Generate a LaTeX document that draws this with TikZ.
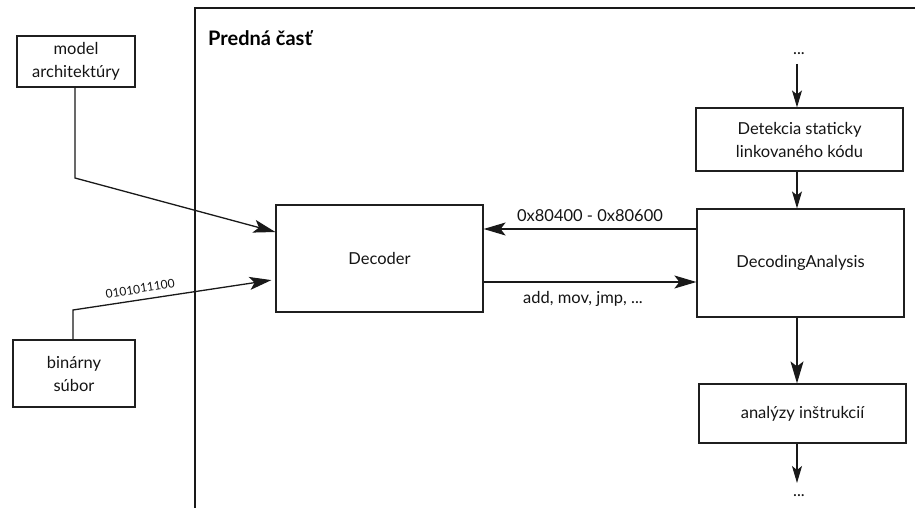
\documentclass[tikz,border=0pt]{standalone}
\usepackage{fontspec}
\setmainfont{Lato}
\usetikzlibrary{arrows.meta}
\begin{document}
\begin{tikzpicture}[x=1pt,y=-1pt,
  box/.style={draw=black!88, line width=1.2pt, inner sep=0pt, align=center,
    font=\fontsize{16.5}{23}\selectfont, text=black!92},
  lbl/.style={font=\fontsize{16.5}{20}\selectfont, text=black!92, inner sep=0pt},
  arr/.style={draw=black!90, line width=1.3pt, -{Stealth[length=22pt,width=13pt,inset=5pt]}},
  sarr/.style={draw=black!90, line width=1.1pt, -{Stealth[length=17pt,width=10pt,inset=4pt]}}]
\useasboundingbox (0,0) rectangle (915,508);

% frame of the front end
\draw[black!90, line width=1.2pt] (195,508) -- (195,8) -- (915,8);
\node[anchor=base west, inner sep=0pt, font=\fontsize{20}{24}\selectfont\bfseries]
  (title) at (208,46) {Predná časť};

% inputs
\node[box, minimum width=118pt, minimum height=51pt] (ma) at (76,61.5) {model\\architektúry};
\node[box, minimum width=122pt, minimum height=67pt] (bs) at (74,373.5) {binárny\\súbor};

% blocks
\node[box, minimum width=207pt, minimum height=107pt] (dec) at (379.5,258.5) {Decoder};
\node[box, minimum width=207pt, minimum height=63pt] (det) at (799.5,139.5) {Detekcia staticky\\linkovaného kódu};
\node[box, minimum width=207pt, minimum height=108pt] (da) at (800.5,263) {DecodingAnalysis};
\node[box, minimum width=207pt, minimum height=59pt] (an) at (802.5,413.5) {analýzy inštrukcií};

% ellipses above and below the chain
\node[lbl, anchor=base] (dtop) at (799,55) {...};
\node[lbl, anchor=base] (dbot) at (799,496) {...};
\coordinate (t0) at (797,64);
\coordinate (b0) at (797,483);

% vertical chain
\draw[sarr] (t0) -- (t0 |- det.north);
\draw[sarr] (det.south -| t0) -- (da.north -| t0);
\draw[arr] (da.south -| t0) -- (an.north -| t0);
\draw[sarr] (an.south -| b0) -- (b0);

% exchange between decoder and analysis
\draw[arr] ([yshift=34pt]da.west) -- ([yshift=34pt]da.west -| dec.east)
  node[lbl, midway, above=7pt] (addr) {0x80400 - 0x80600};
\draw[arr] ([yshift=-23.5pt]dec.east) -- ([yshift=-23.5pt]dec.east -| da.west)
  node[lbl, midway, below=9pt, xshift=-7pt] (ins) {add, mov, jmp, ...};

% inputs into the decoder
\coordinate (k1) at (75,178);
\draw[arr] (ma.south -| k1) -- (k1) -- ([yshift=26.5pt]dec.west);
\coordinate (k2) at (73,310);
\draw[arr, shorten >=4pt] (bs.north -| k2) -- (k2)
  -- node[sloped, pos=0.34, above=6pt, inner sep=0pt,
          font=\fontsize{12}{14}\selectfont, text=black!92] (bits) {0101011100}
  ([yshift=-21pt]dec.west);
\end{tikzpicture}
\end{document}
